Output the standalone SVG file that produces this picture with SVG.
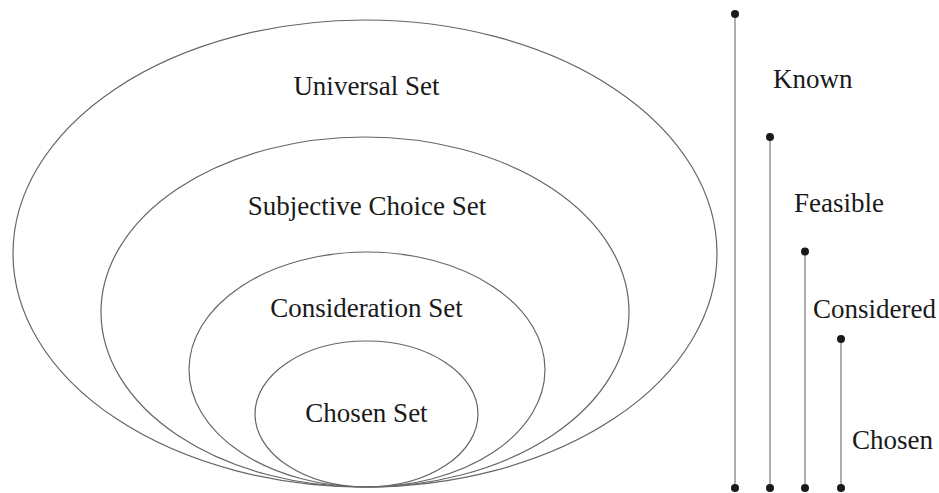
<svg xmlns="http://www.w3.org/2000/svg" width="939" height="493" viewBox="0 0 939 493">
<style>
.set{fill:none;stroke:#666;stroke-width:1.2}
.lbl{font-family:"Liberation Serif","Times New Roman",serif;font-size:27px;fill:#1a1a1a}
.c{text-anchor:middle}
.bar{stroke:#999;stroke-width:1.6}
.dot{fill:#1a1a1a}
</style>
<rect width="939" height="493" fill="#fff"/>
<g id="universal">
<ellipse class="set" cx="365" cy="253.5" rx="352" ry="233.5"/>
<text class="lbl c" x="366.5" y="95">Universal Set</text>
</g>
<g id="subjective">
<ellipse class="set" cx="365" cy="312" rx="264" ry="175"/>
<text class="lbl c" x="367" y="215">Subjective Choice Set</text>
</g>
<g id="consideration">
<ellipse class="set" cx="367" cy="369.5" rx="178" ry="117.5"/>
<text class="lbl c" x="366.5" y="317">Consideration Set</text>
</g>
<g id="chosen">
<ellipse class="set" cx="366.5" cy="414" rx="111.5" ry="73"/>
<text class="lbl c" x="366.5" y="422">Chosen Set</text>
</g>
<g id="connectors">
<line class="bar" x1="735" y1="14" x2="735" y2="488"/>
<line class="bar" x1="770" y1="137" x2="770" y2="488"/>
<line class="bar" x1="805" y1="251.5" x2="805" y2="488"/>
<line class="bar" x1="841" y1="339" x2="841" y2="488"/>
</g>
<g id="known">
<circle class="dot" cx="735" cy="14" r="4"/>
<circle class="dot" cx="735" cy="488" r="4"/>
<text class="lbl" x="773" y="88">Known</text>
</g>
<g id="feasible">
<circle class="dot" cx="770" cy="137" r="4"/>
<circle class="dot" cx="770" cy="488" r="4"/>
<text class="lbl" x="794" y="212">Feasible</text>
</g>
<g id="considered">
<circle class="dot" cx="805" cy="251.5" r="4"/>
<circle class="dot" cx="805" cy="488" r="4"/>
<text class="lbl" x="813" y="318">Considered</text>
</g>
<g id="chosen-bar">
<circle class="dot" cx="841" cy="339" r="4"/>
<circle class="dot" cx="841" cy="488" r="4"/>
<text class="lbl" x="852" y="449">Chosen</text>
</g>
</svg>
